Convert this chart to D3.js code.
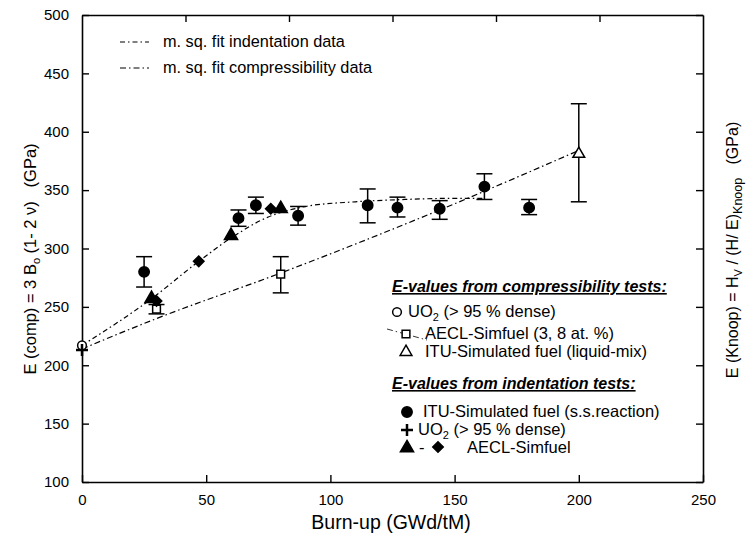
<!DOCTYPE html>
<html>
<head>
<meta charset="utf-8">
<script src="https://cdn.jsdelivr.net/npm/d3@7"></script>
<style>
  body { margin: 0; background: #fff; }
  svg { font-family: Arial, "Liberation Sans", sans-serif; }
  text { white-space: pre; }
</style>
</head>
<body>
<div id="chart"></div>
<script>
// ── Data ────────────────────────────────────────────────────────────────
// indentation tests, ITU simulated fuel (s.s. reaction) — filled circles
const ssX  = [25, 63, 70, 87, 115, 127, 144, 162, 180];
const ssY  = [280, 326, 337, 328, 337, 335, 334, 353, 335];
const ssHi = [293, 333, 344, 336, 351, 344, 341, 364, 342];
const ssLo = [267, 319, 330, 320, 322, 327, 325, 342, 329];

// indentation tests, AECL Simfuel — filled triangles and diamonds
const aeclTriX = [28, 60, 80];
const aeclTriY = [257, 311, 334];
const aeclDiaX = [30, 47, 76];
const aeclDiaY = [255, 289, 334];

// indentation tests, UO2 — plus
const uo2IndX = [0];
const uo2IndY = [213];

// compressibility tests
const uo2CompX = [0];
const uo2CompY = [217];
const simCompX  = [30, 80];
const simCompY  = [248, 278];
const simCompHi = [252, 293];
const simCompLo = [244, 262];
const liqX  = [200];
const liqY  = [381];
const liqHi = [424];
const liqLo = [340];

// mean square fits
const fitIndX = [0, 28, 47, 60, 75, 90, 110, 130, 150, 162];
const fitIndY = [217, 257, 289, 309, 327, 336, 340, 342, 343, 343];
const fitCompX = [0, 30, 80, 144, 200];
const fitCompY = [214, 240, 279, 333, 384];

const xTicks = [0, 50, 100, 150, 200, 250];
const yTicks = [100, 150, 200, 250, 300, 350, 400, 450, 500];
const topTicks = [250 / 6, 500 / 6, 750 / 6, 1000 / 6, 1250 / 6];

// ── Layout ──────────────────────────────────────────────────────────────
const W = 749, H = 541;
const m = { left: 82, right: 46, top: 15, bottom: 59 };

const svg = d3.select("#chart").append("svg").attr("width", W).attr("height", H);
svg.append("rect").attr("width", W).attr("height", H).attr("fill", "#fff");

const x = d3.scaleLinear().domain([0, 250]).range([m.left, W - m.right]);
const y = d3.scaleLinear().domain([100, 500]).range([H - m.bottom, m.top]);

// ── Axes (ticks inward) ────────────────────────────────────────────────
const tickLen = 7;
svg.append("g").attr("transform", `translate(0,${y(100)})`)
    .call(d3.axisBottom(x).tickValues(xTicks).tickSizeInner(-tickLen).tickSizeOuter(0).tickPadding(12))
    .call(g => g.selectAll("text").attr("font-size", 15).attr("fill", "#000").attr("font-family", null));
svg.append("g").attr("transform", `translate(${x(0)},0)`)
    .call(d3.axisLeft(y).tickValues(yTicks).tickSizeInner(-tickLen).tickSizeOuter(0).tickPadding(13))
    .call(g => g.selectAll("text").attr("font-size", 15).attr("fill", "#000").attr("font-family", null));
svg.append("g").attr("transform", `translate(0,${y(500)})`)
    .call(d3.axisTop(x).tickValues(topTicks).tickSizeInner(-tickLen).tickSizeOuter(0).tickFormat(""));
svg.append("g").attr("transform", `translate(${x(250)},0)`)
    .call(d3.axisRight(y).tickValues(yTicks).tickSizeInner(-tickLen).tickSizeOuter(0).tickFormat(""));
svg.selectAll(".domain").attr("stroke", "#000").attr("stroke-width", 1.6);
svg.selectAll(".tick line").attr("stroke", "#000").attr("stroke-width", 1.4);

// ── Axis titles ────────────────────────────────────────────────────────
svg.append("text").attr("x", 391).attr("y", 529).attr("text-anchor", "middle")
    .attr("font-size", 19.5).text("Burn-up (GWd/tM)");

const yl = svg.append("text").attr("transform", "translate(36,259) rotate(-90)")
    .attr("text-anchor", "middle").attr("font-size", 16.5);
yl.append("tspan").text("E (comp) = 3 B");
yl.append("tspan").attr("font-size", 11).attr("dy", 4).text("o");
yl.append("tspan").attr("dy", -4).text(" (1- 2 \u03bd)   (GPa)");

const yr = svg.append("text").attr("transform", "translate(738,250) rotate(-90)")
    .attr("text-anchor", "middle").attr("font-size", 16);
yr.append("tspan").text("E (Knoop) = H");
yr.append("tspan").attr("font-size", 11).attr("dy", 4).text("V");
yr.append("tspan").attr("dy", -4).text(" / (H/ E)");
yr.append("tspan").attr("font-size", 12.5).attr("dy", 4).text("Knoop");
yr.append("tspan").attr("dy", -4).text("   (GPa)");

// ── Fit curves ─────────────────────────────────────────────────────────
const line = d3.line().x(d => x(d[0])).y(d => y(d[1])).curve(d3.curveMonotoneX);
svg.append("path").datum(d3.zip(fitIndX, fitIndY)).attr("d", line)
    .attr("fill", "none").attr("stroke", "#000").attr("stroke-width", 1.2)
    .attr("stroke-dasharray", "5,3,1.5,3");
svg.append("path").datum(d3.zip(fitCompX, fitCompY)).attr("d", line)
    .attr("fill", "none").attr("stroke", "#000").attr("stroke-width", 1.2)
    .attr("stroke-dasharray", "6,3,1.5,3");

// ── Error bars ─────────────────────────────────────────────────────────
function errorBars(xs, lo, hi) {
    const g = svg.append("g").attr("stroke", "#000").attr("stroke-width", 1.5);
    xs.forEach((v, i) => {
        g.append("line").attr("x1", x(v)).attr("x2", x(v)).attr("y1", y(lo[i])).attr("y2", y(hi[i]));
        [lo[i], hi[i]].forEach(e => g.append("line")
            .attr("x1", x(v) - 8).attr("x2", x(v) + 8).attr("y1", y(e)).attr("y2", y(e)));
    });
}
errorBars(ssX, ssLo, ssHi);
errorBars(simCompX, simCompLo, simCompHi);
errorBars(liqX, liqLo, liqHi);

// ── Markers ────────────────────────────────────────────────────────────
const sym = {
    dot:   d3.symbol(d3.symbolCircle, 85)(),
    ring:  d3.symbol(d3.symbolCircle, 60)(),
    tri:   d3.symbol(d3.symbolTriangle, 75)(),
    otri:  d3.symbol(d3.symbolTriangle, 60)(),
    sq:    d3.symbol(d3.symbolSquare, 60)(),
    dia:   d3.symbol(d3.symbolSquare, 55)(),
    plus:  "M-6,0H6M0,-6V6"
};
function markers(xs, ys, shape, filled, rot) {
    svg.append("g").selectAll("path").data(d3.zip(xs, ys)).join("path")
        .attr("transform", d => `translate(${x(d[0])},${y(d[1])})` + (rot ? " rotate(45)" : ""))
        .attr("d", sym[shape])
        .attr("fill", filled ? "#000" : "#fff")
        .attr("stroke", "#000").attr("stroke-width", shape === "plus" ? 2.5 : 1.5);
}
markers(simCompX, simCompY, "sq", false);
markers(uo2CompX, uo2CompY, "ring", false);
markers(liqX, liqY, "otri", false);
markers(aeclDiaX, aeclDiaY, "dia", true, true);
markers(aeclTriX, aeclTriY, "tri", true);
markers(ssX, ssY, "dot", true);
markers(uo2IndX, uo2IndY, "plus", false);

// ── Legend: fits (top left) ────────────────────────────────────────────
const fitLeg = [
    { label: "m. sq. fit indentation data", dash: "5,3,1.5,3", y: 42 },
    { label: "m. sq. fit compressibility data", dash: "6,3,1.5,3", y: 68 }
];
fitLeg.forEach(d => {
    svg.append("line").attr("x1", 120).attr("x2", 149).attr("y1", d.y).attr("y2", d.y)
        .attr("stroke", "#000").attr("stroke-width", 1.2).attr("stroke-dasharray", d.dash);
    svg.append("text").attr("x", 163).attr("y", d.y + 5).attr("font-size", 16.3).text(d.label);
});

// ── Legend: markers (bottom right) ─────────────────────────────────────
function heading(txt, yy) {
    svg.append("text").attr("x", 392).attr("y", yy).attr("font-size", 16)
        .attr("font-weight", "bold").attr("font-style", "italic")
        .attr("text-decoration", "underline").text(txt);
}
function legSym(shape, filled, lx, ly, rot) {
    svg.append("path").attr("transform", `translate(${lx},${ly})` + (rot ? " rotate(45)" : ""))
        .attr("d", sym[shape]).attr("fill", filled ? "#000" : "#fff")
        .attr("stroke", "#000").attr("stroke-width", shape === "plus" ? 2.5 : 1.5);
}
function legText(lx, ly, parts) {
    const t = svg.append("text").attr("x", lx).attr("y", ly + 5).attr("font-size", 16.5);
    let shift = 0;
    parts.forEach(p => {
        if (typeof p === "object") {
            t.append("tspan").attr("font-size", 11).attr("dy", 4).text(p.sub);
            shift = -4;
        } else {
            t.append("tspan").attr("dy", shift).text(p);
            shift = 0;
        }
    });
}
heading("E-values from compressibility tests:", 292);
legSym("ring", false, 397, 312);
legText(408, 312, ["UO", { sub: "2" }, " (> 95 % dense)"]);
svg.append("line").attr("x1", 387).attr("x2", 427).attr("y1", 329).attr("y2", 340)
    .attr("stroke", "#000").attr("stroke-width", 0.8).attr("stroke-dasharray", "6,3,1.5,3");
legSym("sq", false, 406, 334);
legText(425, 334, ["AECL-Simfuel (3, 8 at. %)"]);
legSym("otri", false, 406, 352);
legText(425, 352, ["ITU-Simulated fuel (liquid-mix)"]);

heading("E-values from indentation tests:", 389);
legSym("dot", true, 407, 412);
legText(423, 412, ["ITU-Simulated fuel (s.s.reaction)"]);
legSym("plus", false, 407, 430);
legText(418, 430, ["UO", { sub: "2" }, " (> 95 % dense)"]);
legSym("tri", true, 407, 448);
svg.append("text").attr("x", 419).attr("y", 453).attr("font-size", 16.5).text("-");
legSym("dia", true, 438, 447, true);
legText(467, 448, ["AECL-Simfuel"]);
</script>
</body>
</html>
